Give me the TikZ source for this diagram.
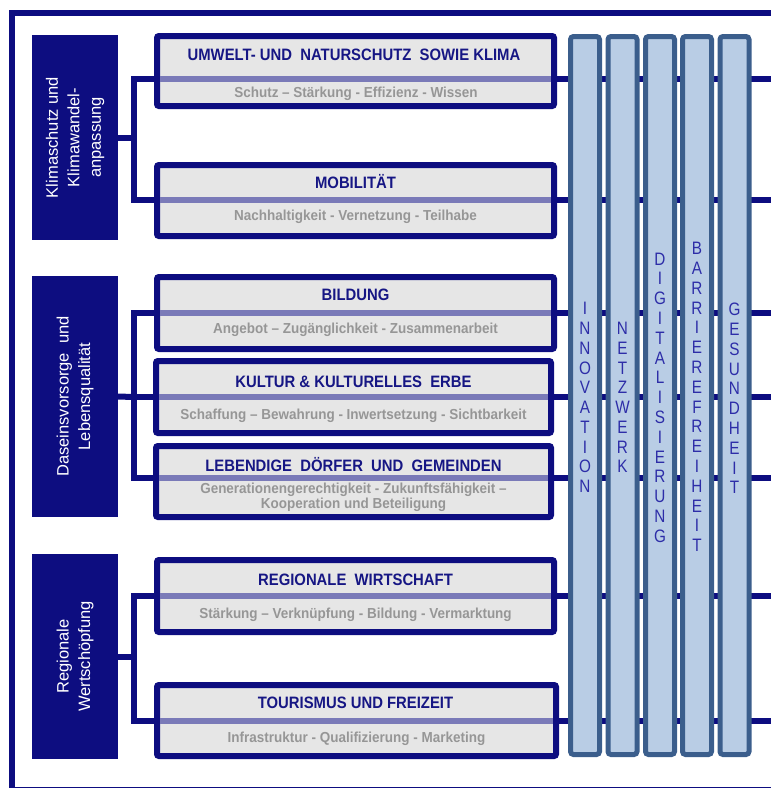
\documentclass[tikz,border=0pt]{standalone}
\usepackage{fontspec}
\setmainfont{Liberation Sans}
\newfontfamily\condsans[FakeStretch=0.9]{Liberation Sans}
\newfontfamily\subsans[FakeStretch=0.93]{Liberation Sans}
\newfontfamily\pillarsans[FakeStretch=0.85]{Liberation Sans}

\definecolor{navy}{RGB}{13,13,128}
\definecolor{titleblue}{RGB}{22,22,132}
\definecolor{boxgray}{RGB}{230,230,230}
\definecolor{sepband}{RGB}{122,122,184}
\definecolor{subgray}{RGB}{150,150,150}
\definecolor{pillarfill}{RGB}{185,205,229}
\definecolor{pillaredge}{RGB}{59,94,140}
\definecolor{pillartext}{RGB}{45,45,168}

\begin{document}
\begin{tikzpicture}[x=1pt,y=-1pt,
  catbox/.style={fill=navy, minimum width=86, inner sep=0, outer sep=0},
  cattext/.style={text=white, rotate=90, align=center, inner sep=0,
    font=\fontsize{16.5}{21.5}\selectfont},
  themebox/.style={draw=navy, fill=boxgray, line width=6pt, rounded corners=2pt,
    inner sep=0, outer sep=0},
  conn/.style={draw=navy, line width=6pt},
  sepline/.style={draw=sepband, line width=6pt},
  title/.style={text=titleblue, inner sep=0, text height=11.8pt, text depth=0pt,
    font=\condsans\bfseries\fontsize{16.5}{18}\selectfont},
  subtitle/.style={text=subgray, inner sep=0, text height=10.3pt, text depth=0pt,
    font=\subsans\bfseries\fontsize{14.5}{15}\selectfont},
  pillar/.style={draw=pillaredge, fill=pillarfill, line width=5pt, rounded corners=3pt,
    minimum width=29, minimum height=718, inner sep=0, outer sep=0},
  plabel/.style={text=pillartext, align=center, inner sep=0,
    font=\pillarsans\fontsize{18}{19.8}\selectfont},
]
\useasboundingbox (0,0) rectangle (771,788);
\begin{scope}
\clip (0,0) rectangle (771,788);

% outer frame
\draw[navy, line width=6pt] (11.5,13) rectangle (800,790);

% category boxes
\node[catbox, minimum height=205] (cat1) at (75,137.5) {};
\node[catbox, minimum height=241] (cat2) at (75,396.5) {};
\node[catbox, minimum height=205] (cat3) at (75,656.5) {};

% separator end points of the theme boxes (inner edges) and line ends on the right
\coordinate (t1L) at (160,78.5);  \coordinate (t1R) at (551,78.5);  \coordinate (t1E) at (790,78.5);
\coordinate (t2L) at (160,199.5); \coordinate (t2R) at (551,199.5); \coordinate (t2E) at (790,199.5);
\coordinate (t3L) at (160,313);   \coordinate (t3R) at (551,313);   \coordinate (t3E) at (790,313);
\coordinate (t4L) at (159,397);   \coordinate (t4R) at (548,397);   \coordinate (t4E) at (790,397);
\coordinate (t5L) at (159,478);   \coordinate (t5R) at (548,478);   \coordinate (t5E) at (790,478);
\coordinate (t6L) at (160,596);   \coordinate (t6R) at (551,596);   \coordinate (t6E) at (790,596);
\coordinate (t7L) at (160,721);   \coordinate (t7R) at (553,721);   \coordinate (t7E) at (790,721);

% bus junctions
\coordinate (b1) at (133.5,137.5);
\coordinate (b2) at (133.5,397);
\coordinate (b3) at (133.5,656.5);

% connectors: category -> bus -> theme boxes
\draw[conn] (cat1.east) -- (b1);
\draw[conn] (t1L) -| (b1) |- (t2L);
\draw[conn] (cat2.east) -- (b2);
\draw[conn] (t3L) -| (b2) |- (t5L);
\draw[conn] (b2) -- (t4L);
\draw[conn] (cat3.east) -- (b3);
\draw[conn] (t6L) -| (b3) |- (t7L);

% lines running right through the pillars
\foreach \t in {t1,t2,t3,t4,t5,t6,t7}{
  \draw[conn] (\t R) -- (\t E);
}

% category labels
\node[cattext] (cat1t) at (cat1.center) {Klimaschutz und\\Klimawandel-\\anpassung};
\node[cattext] (cat2t) at (cat2.center) {Daseinsvorsorge~ und\\Lebensqualität};
\node[cattext] (cat3t) at (cat3.center) {Regionale\\Wertschöpfung};

% theme boxes
\node[themebox, minimum width=397, minimum height=70] (t1) at (355.5,71) {};
\node[themebox, minimum width=397, minimum height=71] (t2) at (355.5,200.5) {};
\node[themebox, minimum width=397, minimum height=72] (t3) at (355.5,313) {};
\node[themebox, minimum width=395, minimum height=72] (t4) at (353.5,397) {};
\node[themebox, minimum width=395, minimum height=71] (t5) at (353.5,481.5) {};
\node[themebox, minimum width=397, minimum height=72] (t6) at (355.5,596) {};
\node[themebox, minimum width=399, minimum height=71] (t7) at (356.5,720.5) {};

% separator bands inside the boxes
\foreach \t in {t1,t2,t3,t4,t5,t6,t7}{
  \draw[sepline] (\t L) -- (\t R);
}

% titles
\node[title] (t1h) at (354,55)  {UMWELT- UND~ NATURSCHUTZ~ SOWIE KLIMA};
\node[title] (t2h) at (355.5,183) {MOBILITÄT};
\node[title] (t3h) at (355.5,295) {BILDUNG};
\node[title] (t4h) at (353.5,382) {KULTUR \& KULTURELLES~ ERBE};
\node[title] (t5h) at (353.5,466) {LEBENDIGE~ DÖRFER~ UND~ GEMEINDEN};
\node[title] (t6h) at (355.5,580) {REGIONALE~ WIRTSCHAFT};
\node[title] (t7h) at (355.5,703) {TOURISMUS UND FREIZEIT};

% subtitles
\node[subtitle] (t1u) at (356,92)  {Schutz – Stärkung - Effizienz - Wissen};
\node[subtitle] (t2u) at (355.5,215) {Nachhaltigkeit - Vernetzung - Teilhabe};
\node[subtitle] (t3u) at (355.5,328) {Angebot – Zugänglichkeit - Zusammenarbeit};
\node[subtitle] (t4u) at (353.5,414) {Schaffung – Bewahrung - Inwertsetzung - Sichtbarkeit};
\node[subtitle] (t5u) at (353.5,488) {Generationengerechtigkeit - Zukunftsfähigkeit –};
\node[subtitle] (t5v) at (353.5,503) {Kooperation und Beteiligung};
\node[subtitle] (t6u) at (355.5,613) {Stärkung – Verknüpfung - Bildung - Vermarktung};
\node[subtitle] (t7u) at (356.5,737) {Infrastruktur - Qualifizierung - Marketing};

% cross-cutting pillars
\node[pillar] (p1) at (585,395.5) {};
\node[pillar] (p2) at (622.5,395.5) {};
\node[pillar] (p3) at (660,395.5) {};
\node[pillar] (p4) at (697,395.5) {};
\node[pillar] (p5) at (734.5,395.5) {};

\node[plabel] (p1t) at (585,397.5) {I\\N\\N\\O\\V\\A\\T\\I\\O\\N};
\node[plabel] (p2t) at (622.5,397.5) {N\\E\\T\\Z\\W\\E\\R\\K};
\node[plabel] (p3t) at (660,397.5) {D\\I\\G\\I\\T\\A\\L\\I\\S\\I\\E\\R\\U\\N\\G};
\node[plabel] (p4t) at (697,397) {B\\A\\R\\R\\I\\E\\R\\E\\F\\R\\E\\I\\H\\E\\I\\T};
\node[plabel] (p5t) at (734.5,398.5) {G\\E\\S\\U\\N\\D\\H\\E\\I\\T};
\end{scope}
\end{tikzpicture}
\end{document}
